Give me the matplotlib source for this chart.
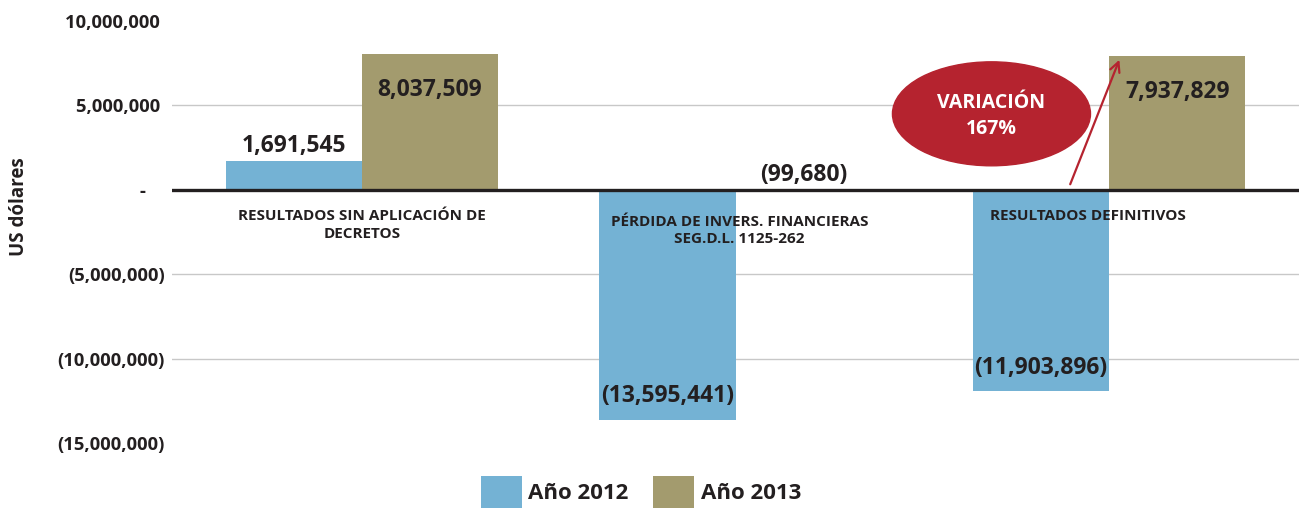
import matplotlib
matplotlib.use("Agg")
import matplotlib.pyplot as plt
from matplotlib.patches import Ellipse
from matplotlib.ticker import FuncFormatter

plt.rcParams['font.family'] = ['Open Sans', 'DejaVu Sans']
plt.rcParams['font.weight'] = 'bold'

# data
categorias = ["RESULTADOS SIN APLICACIÓN DE\nDECRETOS",
              "PÉRDIDA DE INVERS. FINANCIERAS\nSEG.D.L. 1125-262",
              "RESULTADOS DEFINITIVOS"]
series = ["Año 2012", "Año 2013"]
valores_2012 = [1691545, -13595441, -11903896]
valores_2013 = [8037509, -99680, 7937829]
yticks = [10000000, 5000000, 0, -5000000, -10000000, -15000000]
variacion = "VARIACIÓN\n167%"

azul = "#74B2D4"
oliva = "#A39B6E"
texto = "#231F20"
rojo = "#B5232F"


def fmt_num(v):
    if v < 0:
        return "({:,.0f})".format(-v)
    return "{:,.0f}".format(v)


def fmt_tick(v, pos=None):
    if v == 0:
        return "-    "
    if v < 0:
        return "({:,.0f})".format(-v)
    return "{:,.0f} ".format(v)


fig = plt.figure(figsize=(12.99, 5.08), dpi=100)
ax = fig.add_axes([172 / 1299, 0.127, 1 - 172 / 1299, 0.832])

x = range(len(categorias))
w = 0.364
b1 = ax.bar([i - w / 2 for i in x], valores_2012, w, color=azul, label=series[0], zorder=2)
b2 = ax.bar([i + w / 2 for i in x], valores_2013, w, color=oliva, label=series[1], zorder=2)

ax.set_xlim(-0.508, 2.508)
ax.set_ylim(-15000000, 10000000)
ax.set_yticks(yticks)
ax.yaxis.set_major_formatter(FuncFormatter(fmt_tick))
ax.tick_params(axis='y', length=0, pad=5, labelsize=13.2, colors=texto)
ax.set_xticks([])
for s in ax.spines.values():
    s.set_visible(False)

for g in yticks:
    if g not in (0, yticks[0], yticks[-1]):
        ax.axhline(g, color="#C8C8C8", lw=1, zorder=1)
ax.axhline(0, color=texto, lw=2.4, zorder=3)

# data labels
for bars in (b1, b2):
    for rect in bars:
        v = rect.get_height()
        if rect.get_y() < 0:
            v = -rect.get_height()
        cx = rect.get_x() + rect.get_width() / 2
        if v > 5000000:
            off = (0, -26)
            ref = v
        elif v < -5000000:
            off = (0, 17)
            ref = v
        else:
            off = (0, 11)
            ref = max(v, 0)
        ax.annotate(fmt_num(v), (cx, ref), xytext=off, textcoords="offset points",
                    ha="center", va="center", fontsize=16.5, color=texto, zorder=4)

# category labels under the zero line (small manual nudges as in the original)
nudges = [(0, -14), (3, -18), (-15, -14)]
for i, c, (dx, dy) in zip(x, categorias, nudges):
    ax.annotate(c, (i, 0), xytext=(dx, dy), textcoords="offset points",
                ha="center", va="top", fontsize=11, color=texto, zorder=4,
                linespacing=1.3)

# variation bubble + arrow
ell = Ellipse((1.685, 4500000), 0.53, 6150000, color=rojo, zorder=5)
ax.add_patch(ell)
ax.text(1.685, 4400000, variacion, ha="center", va="center", color="white",
        fontsize=14, zorder=6, linespacing=1.4)
ax.annotate("", xy=(2.03, 7850000), xytext=(1.893, 180000),
            arrowprops=dict(arrowstyle="->,head_length=0.7,head_width=0.35",
                            color=rojo, lw=1.6), zorder=6)

fig.text(19 / 1299, 1 - 207 / 508, "US dólares", rotation=90, ha="center", va="center",
         fontsize=13.5, color=texto)

fig.legend(handles=[b1, b2], labels=series, loc="lower center",
           bbox_to_anchor=(641 / 1299, 0.0), ncol=2, frameon=False, fontsize=16,
           handlelength=1.85, handleheight=1.85, handletextpad=0.3,
           columnspacing=1.1, borderpad=0, borderaxespad=0,
           labelcolor=texto)

fig.savefig("out.png", dpi=100)
